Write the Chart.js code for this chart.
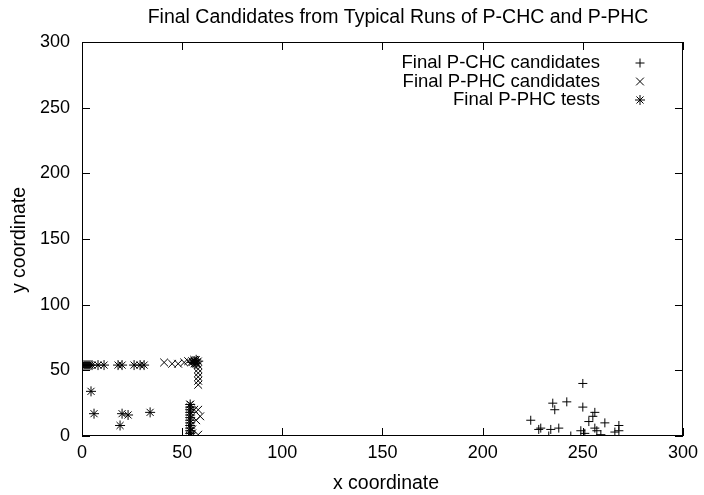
<!DOCTYPE html>
<html>
<head>
<meta charset="utf-8">
<script src="https://cdn.jsdelivr.net/npm/chart.js@4/dist/chart.umd.min.js"></script>
<style>
  body { margin: 0; background: #fff; }
  canvas { display: block; }
</style>
</head>
<body>
<canvas id="candidatesChart" width="704" height="495"></canvas>
<script>
// values
var xTicks = [0, 50, 100, 150, 200, 250, 300];
var yTicks = [0, 50, 100, 150, 200, 250, 300];

var pchcX = [224, 228, 229, 233, 234, 235, 236, 238, 242, 244, 249, 250, 250, 251, 253, 255, 256, 256, 257, 259, 261, 266, 268, 268];
var pchcY = [12, 5, 6, 0, 5, 25, 20, 6, 26, 0, 4, 40, 22, 2, 11, 15, 18, 6, 4, 1, 10, 3, 8, 4];

var pphcX = [41, 45, 48, 51, 53, 55, 56, 57, 58, 58, 58, 58, 58, 58, 54, 56, 58, 59, 57, 55, 58, 54, 55];
var pphcY = [56, 55, 55, 56, 57, 57, 58, 56, 54, 51, 48, 45, 42, 39, 24, 20, 20, 15, 12, 5, 1, 0, 2];

var testX = [0, 1, 2, 3, 4, 5, 8, 11, 18, 20, 26, 29, 31, 4.5, 6, 20, 23, 19, 34,
             54, 54, 54, 54, 54, 54, 54, 54, 54, 54, 54, 54, 54, 55, 56, 57, 57, 58, 56];
var testY = [54, 54, 54, 54, 54, 54, 54, 54, 54, 54, 54, 54, 54, 34, 17, 17, 16, 8, 18,
             0, 2, 4, 6, 8, 10, 12, 14, 16, 18, 20, 22, 24, 56, 57, 58, 55, 57, 55];

var seriesLabels = ['Final P-CHC candidates', 'Final P-PHC candidates', 'Final P-PHC tests'];

function toPoints(xs, ys) {
    return xs.map(function (x, i) { return { x: x, y: ys[i] }; });
}

var FONT = '"Liberation Sans", Arial, sans-serif';

var frameAndTicks = {
    id: 'frameAndTicks',
    afterDraw: function (chart) {
        var ctx = chart.ctx, a = chart.chartArea;
        var sx = chart.scales.x, sy = chart.scales.y;
        ctx.save();
        ctx.strokeStyle = '#000';
        ctx.lineWidth = 1;
        ctx.strokeRect(a.left + 0.5, a.top + 0.5, a.right - a.left - 1, a.bottom - a.top - 1);
        ctx.beginPath();
        xTicks.forEach(function (v) {
            var px = Math.round(sx.getPixelForValue(v)) + 0.5;
            ctx.moveTo(px, a.bottom); ctx.lineTo(px, a.bottom - 8);
            ctx.moveTo(px, a.top); ctx.lineTo(px, a.top + 8);
        });
        yTicks.forEach(function (v) {
            var py = Math.round(sy.getPixelForValue(v)) + 0.5;
            ctx.moveTo(a.left, py); ctx.lineTo(a.left + 8, py);
            ctx.moveTo(a.right, py); ctx.lineTo(a.right - 8, py);
        });
        ctx.stroke();

        // titles
        ctx.fillStyle = '#000';
        ctx.textAlign = 'center';
        ctx.textBaseline = 'middle';
        ctx.font = '19.5px ' + FONT;
        ctx.fillText('Final Candidates from Typical Runs of P-CHC and P-PHC', 398, 18);
        ctx.fillText('x coordinate', 386, 484);
        ctx.save();
        ctx.translate(20, 240);
        ctx.rotate(-Math.PI / 2);
        ctx.fillText('y coordinate', 0, 0);
        ctx.restore();

        // legend: text right aligned, sample to the right
        ctx.font = '18.5px ' + FONT;
        ctx.textAlign = 'right';
        chart.data.datasets.forEach(function (ds, i) {
            var ly = 63 + i * 18.5;
            ctx.fillText(ds.label, 600, ly);
            Chart.helpers.drawPoint(ctx, {
                pointStyle: ds.pointStyle,
                radius: ds.pointRadius,
                rotation: 0,
                borderWidth: 1
            }, 640, ly);
        });
        ctx.restore();
    }
};

var ctx = document.getElementById('candidatesChart').getContext('2d');
var chart = new Chart(ctx, {
    type: 'scatter',
    data: {
        datasets: [{
            label: seriesLabels[0],
            data: toPoints(pchcX, pchcY),
            pointStyle: 'cross',
            pointRadius: 4.5,
            borderColor: '#000',
            backgroundColor: '#000',
            borderWidth: 1
        }, {
            label: seriesLabels[1],
            data: toPoints(pphcX, pphcY),
            pointStyle: 'crossRot',
            pointRadius: 5.5,
            borderColor: '#000',
            backgroundColor: '#000',
            borderWidth: 1
        }, {
            label: seriesLabels[2],
            data: toPoints(testX, testY),
            pointStyle: 'star',
            pointRadius: 5,
            borderColor: '#000',
            backgroundColor: '#000',
            borderWidth: 1
        }]
    },
    options: {
        responsive: false,
        animation: false,
        layout: { padding: { top: 42, right: 19, bottom: 0, left: 0 } },
        plugins: {
            legend: { display: false },
            title: { display: false },
            tooltip: { enabled: false }
        },
        scales: {
            x: {
                type: 'linear',
                min: 0,
                max: 300,
                afterFit: function (scale) { scale.height = 59; },
                afterBuildTicks: function (scale) {
                    scale.ticks = xTicks.map(function (v) { return { value: v }; });
                },
                grid: { display: false, drawTicks: false },
                border: { display: false },
                ticks: { color: '#000', padding: 6, maxRotation: 0, font: { family: FONT, size: 18 } }
            },
            y: {
                type: 'linear',
                min: 0,
                max: 300,
                afterFit: function (scale) { scale.width = 82; },
                afterBuildTicks: function (scale) {
                    scale.ticks = yTicks.map(function (v) { return { value: v }; });
                },
                grid: { display: false, drawTicks: false },
                border: { display: false },
                ticks: { color: '#000', padding: 12, font: { family: FONT, size: 18 } }
            }
        }
    },
    plugins: [frameAndTicks]
});
</script>
</body>
</html>
